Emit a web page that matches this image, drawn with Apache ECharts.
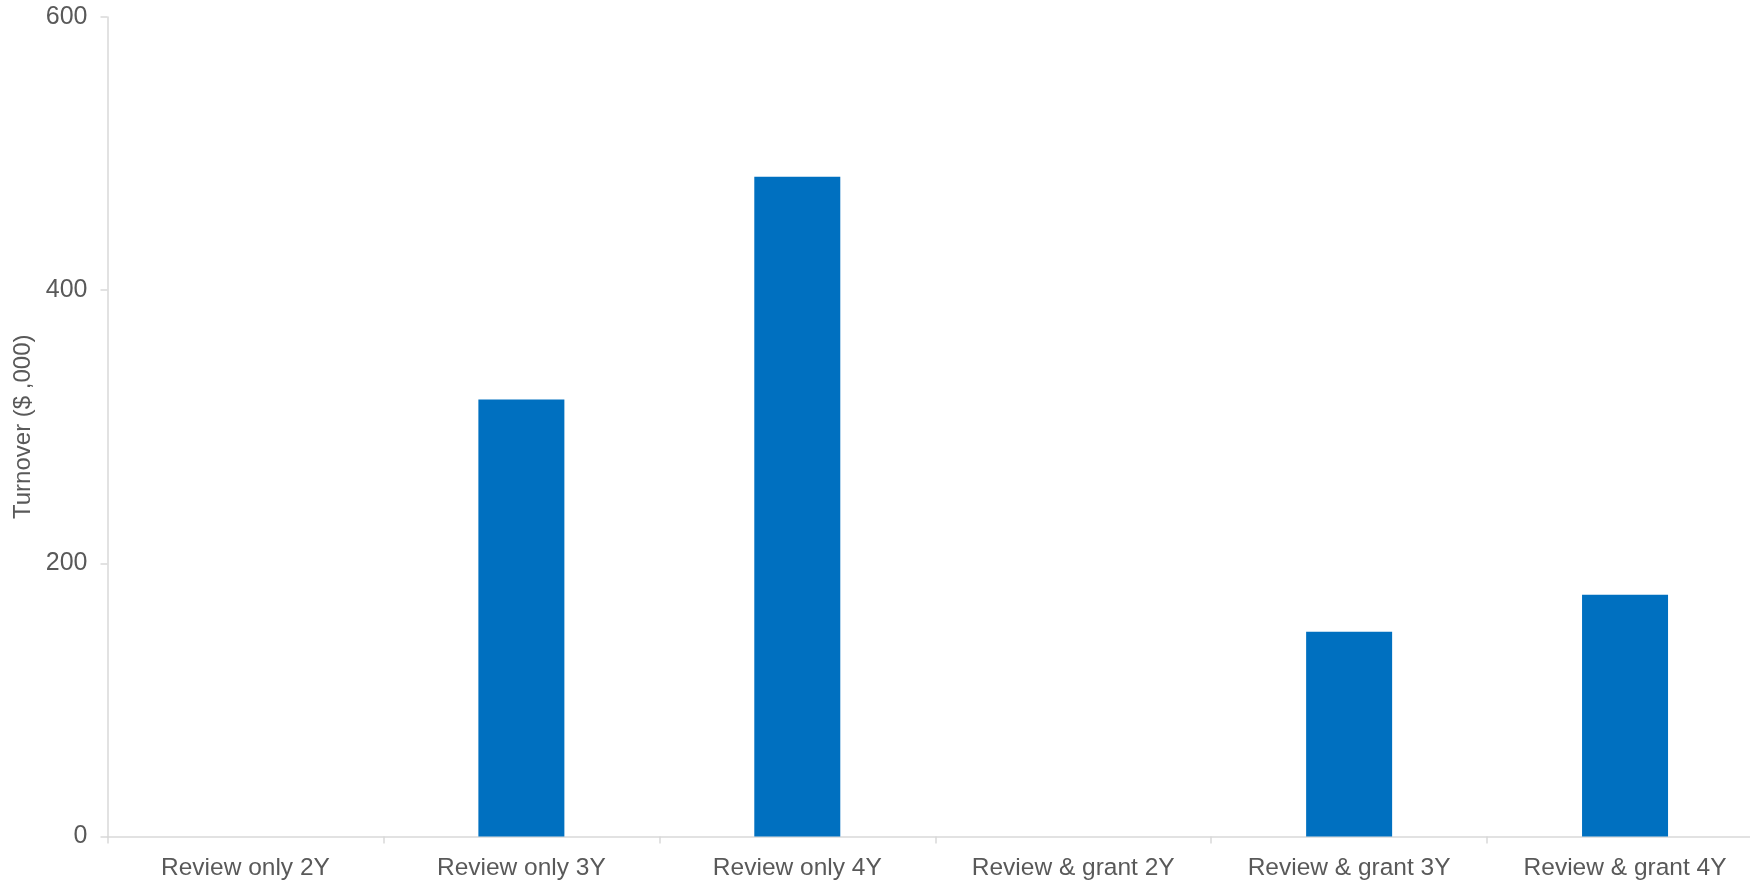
<!DOCTYPE html>
<html>
<head>
<meta charset="utf-8">
<script src="https://cdn.jsdelivr.net/npm/echarts@6/dist/echarts.min.js"></script>
<style>html,body{margin:0;padding:0;background:#fff;overflow:hidden;width:1750px;height:883px;}#c{width:1764px;height:883px;}</style>
</head>
<body>
<div id="c"></div>
<script>
const categories = ['Review only 2Y','Review only 3Y','Review only 4Y','Review & grant 2Y','Review & grant 3Y','Review & grant 4Y'];
const turnover = [0, 320, 483, 0, 150, 177];
const yTicks = [0, 200, 400, 600];
const yAxisName = 'Turnover ($ ,000)';

const chart = echarts.init(document.getElementById('c'));
const font = 'Liberation Sans, Arial, sans-serif';
chart.setOption({
  animation: false,
  grid: {left: 107.5, right: 1, top: 17, bottom: 46.5, containLabel: false},
  xAxis: {
    type: 'category',
    data: categories,
    axisLine: {lineStyle: {color: '#d9d9d9', width: 1.5}},
    axisTick: {show: true, length: 7, lineStyle: {color: '#d9d9d9', width: 1.5}, alignWithLabel: false},
    axisLabel: {color: '#595959', fontSize: 24.5, fontFamily: font, margin: 19}
  },
  yAxis: {
    type: 'value',
    min: yTicks[0], max: yTicks[yTicks.length-1], interval: 200,
    name: yAxisName,
    nameLocation: 'middle',
    nameGap: 67,
    nameTextStyle: {color: '#595959', fontSize: 24, fontFamily: font},
    axisLine: {show: true, lineStyle: {color: '#d9d9d9', width: 1.5}},
    axisTick: {show: true, length: 7, lineStyle: {color: '#d9d9d9', width: 1.5}},
    axisLabel: {color: '#595959', fontSize: 25, fontFamily: font, margin: 20},
    splitLine: {show: false}
  },
  series: [{
    type: 'bar',
    data: turnover,
    barWidth: 86,
    itemStyle: {color: '#0070C0'}
  }]
});
</script>
</body>
</html>
